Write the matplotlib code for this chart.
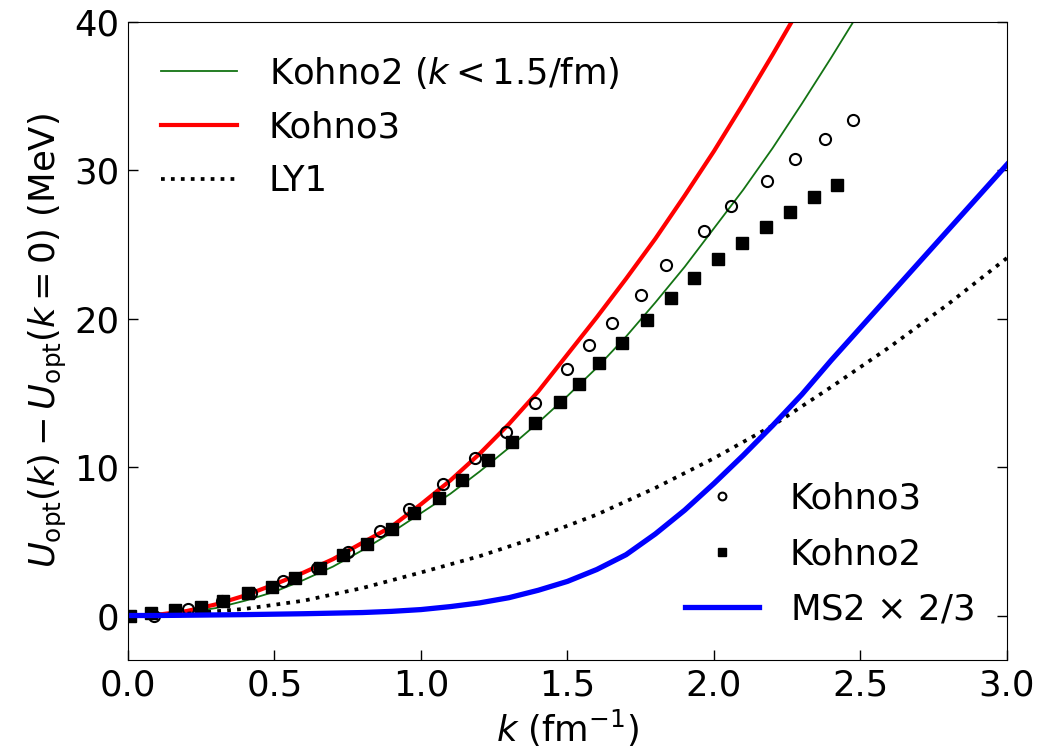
import numpy as np
import matplotlib.pyplot as plt

# curves (k in fm^-1, U in MeV)
k_red = [0.0, 0.1, 0.2, 0.3, 0.4, 0.5, 0.6, 0.7, 0.8, 0.9, 1.0, 1.1, 1.2,
         1.3, 1.4, 1.5, 1.6, 1.7, 1.8, 1.9, 2.0, 2.1, 2.2, 2.3]
u_red = [0.0, 0.05, 0.3, 0.75, 1.35, 2.1, 2.9, 3.8, 4.9, 6.0, 7.5, 9.1, 10.9,
         12.9, 15.1, 17.6, 20.1, 22.7, 25.4, 28.3, 31.3, 34.5, 37.8, 41.2]

k_green = [0.0, 0.1, 0.2, 0.3, 0.4, 0.5, 0.6, 0.7, 0.8, 0.9, 1.0, 1.1, 1.2,
           1.3, 1.4, 1.5, 1.6, 1.7, 1.8, 1.9, 2.0, 2.1, 2.2, 2.3, 2.4, 2.5]
u_green = [0.0, 0.03, 0.2, 0.5, 1.0, 1.6, 2.4, 3.3, 4.4, 5.6, 6.9, 8.2, 9.7,
           11.3, 13.0, 14.8, 16.7, 18.8, 21.1, 23.5, 26.1, 28.7, 31.5, 34.5, 37.6, 40.8]

k_ly1 = [0.0, 0.2, 0.4, 0.6, 0.8, 1.0, 1.2, 1.4, 1.6, 1.8, 2.0, 2.2, 2.4,
         2.6, 2.8, 3.0]
u_ly1 = [0.0, 0.12, 0.45, 1.0, 1.85, 2.9, 4.0, 5.3, 6.8, 8.6, 10.6, 12.8, 15.4,
         18.1, 21.0, 24.1]

k_ms2 = [0.0, 0.1, 0.2, 0.3, 0.4, 0.5, 0.6, 0.7, 0.8, 0.9, 1.0, 1.1, 1.2,
         1.3, 1.4, 1.5, 1.6, 1.7, 1.8, 1.9, 2.0, 2.1, 2.2, 2.3, 2.4, 2.5,
         2.6, 2.7, 2.8, 2.9, 3.0]
u_ms2 = [0.0, 0.0, 0.02, 0.04, 0.06, 0.09, 0.12, 0.16, 0.2, 0.28, 0.4, 0.6, 0.85,
         1.2, 1.7, 2.3, 3.1, 4.1, 5.5, 7.1, 8.9, 10.8, 12.8, 14.9, 17.2, 19.4,
         21.6, 23.8, 26.0, 28.2, 30.4]

# point data
k_k3 = [0.09, 0.205, 0.32, 0.42, 0.53, 0.645, 0.75, 0.86, 0.96, 1.075, 1.185,
        1.29, 1.39, 1.50, 1.575, 1.653, 1.751, 1.835, 1.966, 2.057, 2.181,
        2.275, 2.38, 2.474]
u_k3 = [-0.05, 0.47, 0.95, 1.5, 2.3, 3.2, 4.3, 5.7, 7.2, 8.85, 10.6,
        12.4, 14.3, 16.6, 18.2, 19.7, 21.6, 23.6, 25.9, 27.6, 29.3,
        30.8, 32.1, 33.4]

k_k2 = [0.007, 0.08, 0.16, 0.25, 0.325, 0.41, 0.49, 0.57, 0.655, 0.735, 0.815,
        0.90, 0.975, 1.06, 1.14, 1.23, 1.31, 1.39, 1.474, 1.54, 1.607, 1.687,
        1.77, 1.852, 1.933, 2.015, 2.096, 2.178, 2.26, 2.341, 2.42]
u_k2 = [0.0, 0.15, 0.4, 0.55, 1.0, 1.5, 1.9, 2.5, 3.2, 4.05, 4.8,
        5.8, 6.9, 7.9, 9.1, 10.5, 11.7, 13.0, 14.4, 15.6, 17.0, 18.4,
        19.9, 21.4, 22.75, 24.0, 25.1, 26.2, 27.2, 28.2, 29.05]

fs = 25.5
plt.rcParams['font.size'] = fs
plt.rcParams['mathtext.fontset'] = 'dejavusans'

fig = plt.figure(figsize=(10.54, 7.55), dpi=100, facecolor='w')
ax = fig.add_axes([0.1214, 0.1258, 0.8340, 0.8450])

l_green, = ax.plot(k_green, u_green, color='#137313', lw=1.3,
                   label=r'Kohno2 ($k < 1.5$/fm)')
l_red, = ax.plot(k_red, u_red, color='red', lw=3.0, label='Kohno3')
l_ly1, = ax.plot(k_ly1, u_ly1, color='k', lw=2.7, ls=':', label='LY1')
p_k3, = ax.plot(k_k3, u_k3, 'o', mfc='none', mec='k', mew=1.5, ms=8,
                label='Kohno3')
p_k2, = ax.plot(k_k2, u_k2, 's', color='k', ms=8, label='Kohno2')
l_ms2, = ax.plot(k_ms2, u_ms2, color='blue', lw=3.8,
                 label=r'MS2 $\times$ 2/3')

ax.set_xlim(0, 3)
ax.set_ylim(-3, 40)
ax.set_xticks([0.0, 0.5, 1.0, 1.5, 2.0, 2.5, 3.0])
ax.set_yticks([0, 10, 20, 30, 40])
ax.tick_params(direction='in', length=7, width=1, right=True, top=False,
               labelsize=fs, pad=6)

ax.set_xlabel(r'$k$ (fm$^{-1}$)', fontsize=fs, labelpad=4)
ax.set_ylabel(r'$U_{\rm opt}(k) - U_{\rm opt}(k=0)$ (MeV)', fontsize=fs,
              labelpad=4)

leg1 = ax.legend(handles=[l_green, l_red, l_ly1], loc='upper left',
                 frameon=False, fontsize=fs, handlelength=2.15,
                 handletextpad=0.9, labelspacing=0.56,
                 borderaxespad=0.52)
ax.add_artist(leg1)
ax.legend(handles=[p_k3, p_k2, l_ms2], loc='lower right', frameon=False,
          fontsize=fs, handlelength=2.1, handletextpad=0.85,
          labelspacing=0.6, markerscale=0.7, borderaxespad=0.55)

fig.savefig('out.png', dpi=100)
